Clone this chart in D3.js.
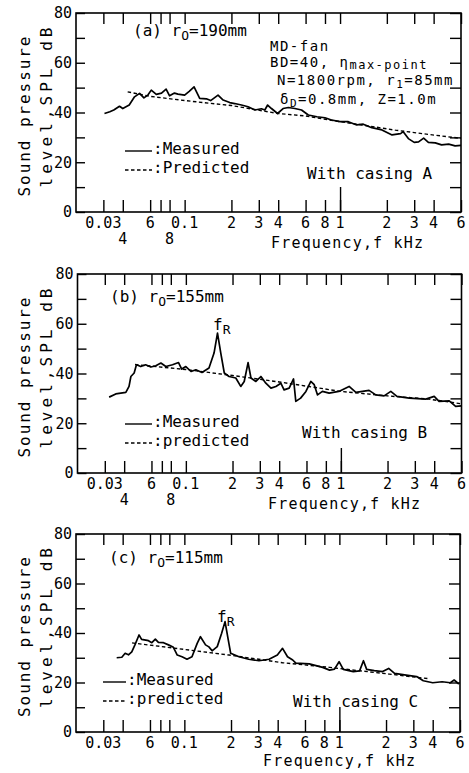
<!DOCTYPE html>
<html>
<head>
<meta charset="utf-8">
<script src="https://cdn.jsdelivr.net/npm/d3@7"></script>
<style>
body { margin: 0; background: #fff; }
text { font-family: "DejaVu Sans Mono", monospace; fill: #000; font-size: 16px; }
</style>
</head>
<body>
<div id="container"></div>
<script>
// f in kHz, SPL in dB

// (a) r0 = 190mm, casing A
var freqA = [0.0305, 0.033, 0.035, 0.0381, 0.040, 0.044, 0.0476, 0.0513, 0.0547, 0.058, 0.061, 0.0657, 0.071, 0.076, 0.080, 0.086, 0.0906, 0.1, 0.107, 0.115, 0.125, 0.138, 0.147, 0.164, 0.177, 0.195, 0.21, 0.232, 0.256, 0.283, 0.312, 0.328, 0.342, 0.362, 0.396, 0.43, 0.465, 0.512, 0.565, 0.625, 0.71, 0.8, 0.88, 1.0, 1.13, 1.28, 1.41, 1.6, 1.86, 2.16, 2.45, 2.55, 2.75, 3.0, 3.2, 3.45, 3.7, 4.1, 4.5, 5.0, 5.5, 6.0];
var splA  = [39.6, 40.3, 41.0, 42.5, 41.6, 43.0, 46.3, 47.7, 45.9, 47.0, 49.0, 47.3, 47.8, 49.4, 46.7, 47.8, 47.4, 47.0, 48.5, 50.3, 45.7, 45.5, 44.8, 47.0, 45.0, 44.0, 43.6, 43.0, 42.3, 41.0, 41.5, 41.0, 43.0, 41.6, 39.6, 41.6, 42.0, 41.6, 41.0, 39.0, 38.3, 37.9, 37.0, 36.3, 36.3, 35.0, 35.3, 33.9, 33.0, 31.0, 31.5, 32.3, 29.5, 28.0, 28.2, 29.7, 28.0, 27.8, 27.0, 27.3, 26.6, 26.8];
var predFreqA = [0.043, 0.06, 0.1, 0.2, 0.4, 0.6, 1.0, 1.38, 2.27, 3.7, 6.0];
var predSplA  = [48.3, 46.5, 44.8, 42.8, 39.6, 38.6, 36.3, 35.0, 32.9, 31.2, 29.6];

// (b) r0 = 155mm, casing B
var freqB = [0.032, 0.0353, 0.041, 0.043, 0.0442, 0.0464, 0.048, 0.0512, 0.055, 0.0595, 0.064, 0.069, 0.0743, 0.082, 0.0897, 0.094, 0.1, 0.108, 0.116, 0.127, 0.141, 0.152, 0.16, 0.168, 0.177, 0.19, 0.21, 0.226, 0.238, 0.252, 0.263, 0.283, 0.305, 0.328, 0.354, 0.381, 0.41, 0.43, 0.464, 0.495, 0.512, 0.55, 0.595, 0.64, 0.673, 0.707, 0.76, 0.84, 0.97, 1.13, 1.25, 1.52, 1.68, 1.9, 2.1, 2.3, 2.76, 3.53, 4.0, 4.3, 5.0, 5.5, 6.0];
var splB  = [30.5, 31.8, 32.4, 34.8, 38.8, 40.2, 43.5, 42.8, 43.5, 42.6, 43.1, 44.2, 42.8, 43.5, 44.4, 41.8, 42.8, 40.8, 41.5, 40.4, 42.2, 48.2, 56.2, 48.2, 40.2, 38.8, 38.2, 34.8, 36.8, 44.4, 38.2, 36.8, 38.8, 36.1, 34.1, 34.8, 36.1, 33.4, 34.1, 37.8, 28.8, 30.1, 32.8, 36.8, 35.5, 31.4, 32.8, 32.1, 32.8, 34.8, 32.4, 33.2, 31.4, 31.0, 32.8, 30.8, 30.1, 29.7, 30.8, 28.8, 29.0, 26.8, 27.0];
var predFreqB = [0.047, 0.1, 0.2, 0.4, 1.0, 2.0, 3.7, 6.0];
var predSplB  = [43.6, 41.6, 39.2, 36.6, 32.8, 31.0, 29.7, 27.8];

// (c) r0 = 115mm, casing C
var freqC = [0.0366, 0.0395, 0.0415, 0.0436, 0.0458, 0.048, 0.051, 0.053, 0.0587, 0.0617, 0.065, 0.068, 0.0734, 0.079, 0.085, 0.09, 0.0966, 0.104, 0.112, 0.121, 0.127, 0.137, 0.144, 0.151, 0.163, 0.174, 0.183, 0.192, 0.199, 0.225, 0.26, 0.303, 0.352, 0.398, 0.43, 0.463, 0.5, 0.524, 0.64, 0.78, 0.865, 0.93, 0.996, 1.06, 1.23, 1.35, 1.43, 1.5, 1.68, 1.9, 2.08, 2.27, 2.7, 3.15, 3.48, 4.0, 4.6, 5.2, 5.5, 5.9];
var splC  = [30.0, 30.2, 31.8, 31.2, 32.4, 35.2, 39.2, 37.4, 36.9, 36.1, 37.5, 36.2, 36.1, 35.2, 34.2, 31.1, 30.4, 29.4, 30.4, 35.8, 38.5, 35.2, 34.4, 32.8, 34.5, 39.9, 44.6, 37.2, 31.8, 30.4, 29.4, 28.8, 29.4, 31.1, 33.8, 30.4, 29.1, 27.8, 27.5, 26.1, 25.0, 25.4, 28.4, 25.3, 24.4, 24.7, 28.8, 25.3, 24.8, 24.4, 25.7, 23.7, 23.0, 22.4, 20.7, 19.9, 20.3, 19.9, 21.0, 19.4];
var predFreqC = [0.046, 0.118, 0.194, 0.43, 0.865, 2.1, 3.8];
var predSplC  = [36.0, 32.8, 31.1, 28.0, 26.1, 23.4, 21.5];

// axis ticks and labels
var freqTicks = [0.03, 0.04, 0.06, 0.07, 0.08, 0.1, 0.2, 0.3, 0.4, 0.6, 0.8, 1, 2, 3, 4, 6];
var labelFreqs = [0.03, 0.06, 0.1, 0.2, 0.3, 0.4, 0.6, 0.8, 1, 2, 3, 4, 6];
var labelTexts = ["0.03", "6", "0.1", "2", "3", "4", "6", "8", "1", "2", "3", "4", "6"];
var lowerFreqs = [0.04, 0.08];
var lowerTexts = ["4", "8"];
var splTicks = [0, 10, 20, 30, 40, 50, 60, 70, 80];
var splLabels = [0, 20, 40, 60, 80];

// panel layout
var panels = [
	{left: 76, right: 461, top: 13, bottom: 212, freq: freqA, spl: splA, pf: predFreqA, ps: predSplA,
	 title: ["(a) r", "O", "=190mm"], titleX: 133, titleY: 36, lower: true, xtitleX: 271, xtitleY: 248,
	 legX: 125, legW: 27, legY: 154, predWord: ":Predicted", casing: "With casing A", casingX: 307, casingY: 179},
	{left: 77.5, right: 461.5, top: 274, bottom: 473, freq: freqB, spl: splB, pf: predFreqB, ps: predSplB,
	 title: ["(b) r", "O", "=155mm"], titleX: 110, titleY: 302, lower: true, xtitleX: 268, xtitleY: 509,
	 fr: [213, 330], legX: 125, legW: 27, legY: 427, predWord: ":predicted", casing: "With casing B", casingX: 302, casingY: 438},
	{left: 76, right: 460, top: 534, bottom: 732, freq: freqC, spl: splC, pf: predFreqC, ps: predSplC,
	 title: ["(c) r", "O", "=115mm"], titleX: 109, titleY: 563, lower: false, xtitleX: 263, xtitleY: 766,
	 fr: [217, 622], legX: 103, legW: 23, legY: 685, predWord: ":predicted", casing: "With casing C", casingX: 293, casingY: 707}
];

function subText(g, x, y, parts, size, subSize, drop)
{// text with alternating normal / subscript parts
	size = size || 16;
	subSize = subSize || size - 3;
	drop = drop || 4;
	var t = g.append("text").attr("x", x).attr("y", y);
	parts.forEach(function(s, i) {
		var sub = i % 2 == 1;
		t.append("tspan")
			.attr("dy", i == 0 ? 0 : (sub ? drop : -drop))
			.style("font-size", (sub ? subSize : size) + "px")
			.text(s);
	});
	return t;
}

function drawPanel(svg, p)
{
	var x = d3.scaleLog().domain([0.02, 6]).range([p.left, p.right]);
	var y = d3.scaleLinear().domain([0, 80]).range([p.bottom, p.top]);
	var g = svg.append("g");

	// inward ticks on all four sides
	g.append("g").attr("transform", "translate(0," + p.bottom + ")")
		.call(d3.axisBottom(x).tickValues(freqTicks).tickSize(-12).tickFormat(""));
	g.append("g").attr("transform", "translate(0," + p.bottom + ")")
		.call(d3.axisBottom(x).tickValues([1]).tickSize(-25).tickFormat(""));
	g.append("g").attr("transform", "translate(0," + p.top + ")")
		.call(d3.axisTop(x).tickValues(freqTicks).tickSize(-11).tickFormat(""));
	g.append("g").attr("transform", "translate(" + p.left + ",0)")
		.call(d3.axisLeft(y).tickValues(splTicks).tickSize(-9).tickFormat(""));
	g.append("g").attr("transform", "translate(" + p.right + ",0)")
		.call(d3.axisRight(y).tickValues(splTicks).tickSize(-11).tickFormat(""));
	g.selectAll(".domain").remove();
	g.selectAll(".tick line").attr("stroke", "#000").attr("stroke-width", 1.4);

	g.append("rect")
		.attr("x", p.left).attr("y", p.top)
		.attr("width", p.right - p.left).attr("height", p.bottom - p.top)
		.attr("fill", "none").attr("stroke", "#000").attr("stroke-width", 1.6);

	// tick labels
	g.selectAll(".xl").data(labelFreqs).enter().append("text")
		.attr("x", (d) => x(d)).attr("y", p.bottom + 16)
		.attr("text-anchor", "middle").style("font-size", "15px")
		.text((d, i) => labelTexts[i]);
	if (p.lower) {
		g.selectAll(".xl2").data(lowerFreqs).enter().append("text")
			.attr("x", (d) => x(d)).attr("y", p.bottom + 32)
			.attr("text-anchor", "middle").style("font-size", "15px")
			.text((d, i) => lowerTexts[i]);
	}
	g.selectAll(".yl").data(splLabels).enter().append("text")
		.attr("x", p.left - 4).attr("y", (d) => y(d))
		.attr("dy", "0.35em").attr("text-anchor", "end").style("font-size", "15px")
		.text((d) => d);

	// axis titles
	g.append("text").attr("x", p.xtitleX).attr("y", p.xtitleY)
		.attr("textLength", 152).style("font-size", "15px").text("Frequency,f  kHz");
	var cy = (p.top + p.bottom) / 2;
	g.append("text")
		.attr("transform", "translate(30," + (cy + 4) + ") rotate(-90)")
		.attr("text-anchor", "middle").attr("textLength", 160)
		.text("Sound pressure");
	g.append("text")
		.attr("transform", "translate(52," + (cy - 5) + ") rotate(-90)")
		.attr("text-anchor", "middle").attr("textLength", 160)
		.text("level,SPL  dB");

	// curves
	var line = d3.line().x((d) => x(d[0])).y((d) => y(d[1]));
	g.append("path")
		.attr("d", line(d3.zip(p.pf, p.ps)))
		.attr("fill", "none").attr("stroke", "#000")
		.attr("stroke-width", 1.4).attr("stroke-dasharray", "3.5,2.5");
	g.append("path")
		.attr("d", line(d3.zip(p.freq, p.spl)))
		.attr("fill", "none").attr("stroke", "#000")
		.attr("stroke-width", 1.7).attr("stroke-linejoin", "round");

	// annotations
	subText(g, p.titleX, p.titleY, p.title);
	if (p.fr) subText(g, p.fr[0], p.fr[1], ["f", "R"]);
	g.append("line")
		.attr("x1", p.legX).attr("x2", p.legX + p.legW)
		.attr("y1", p.legY - 3).attr("y2", p.legY - 3)
		.attr("stroke", "#000").attr("stroke-width", 1.4);
	g.append("text").attr("x", p.legX + p.legW + 1).attr("y", p.legY).text(":Measured");
	g.append("line")
		.attr("x1", p.legX).attr("x2", p.legX + p.legW)
		.attr("y1", p.legY + 16).attr("y2", p.legY + 16)
		.attr("stroke", "#000").attr("stroke-width", 1.4).attr("stroke-dasharray", "3.5,2.5");
	g.append("text").attr("x", p.legX + p.legW + 1).attr("y", p.legY + 19).text(p.predWord);
	g.append("text").attr("x", p.casingX).attr("y", p.casingY).text(p.casing);
}

function body_ready()
{
	var svg = d3.select("#container").append("svg")
		.attr("width", 469).attr("height", 773);

	panels.forEach(function(p) { drawPanel(svg, p); });

	// operating conditions of panel (a)
	var g = svg.append("g").style("letter-spacing", "1.5px");
	g.append("text").attr("x", 270).attr("y", 51).style("font-size", "14px").text("MD-fan");
	subText(g, 270, 67, ["BD=40, \u03b7", "max-point"], 14, 12, 2);
	subText(g, 277, 85, ["N=1800rpm, r", "1", "=85mm"], 14, 11, 3);
	subText(g, 280, 104, ["\u03b4", "D", "=0.8mm, Z=1.0m"], 14, 11, 3);
}

body_ready();
</script>
</body>
</html>
